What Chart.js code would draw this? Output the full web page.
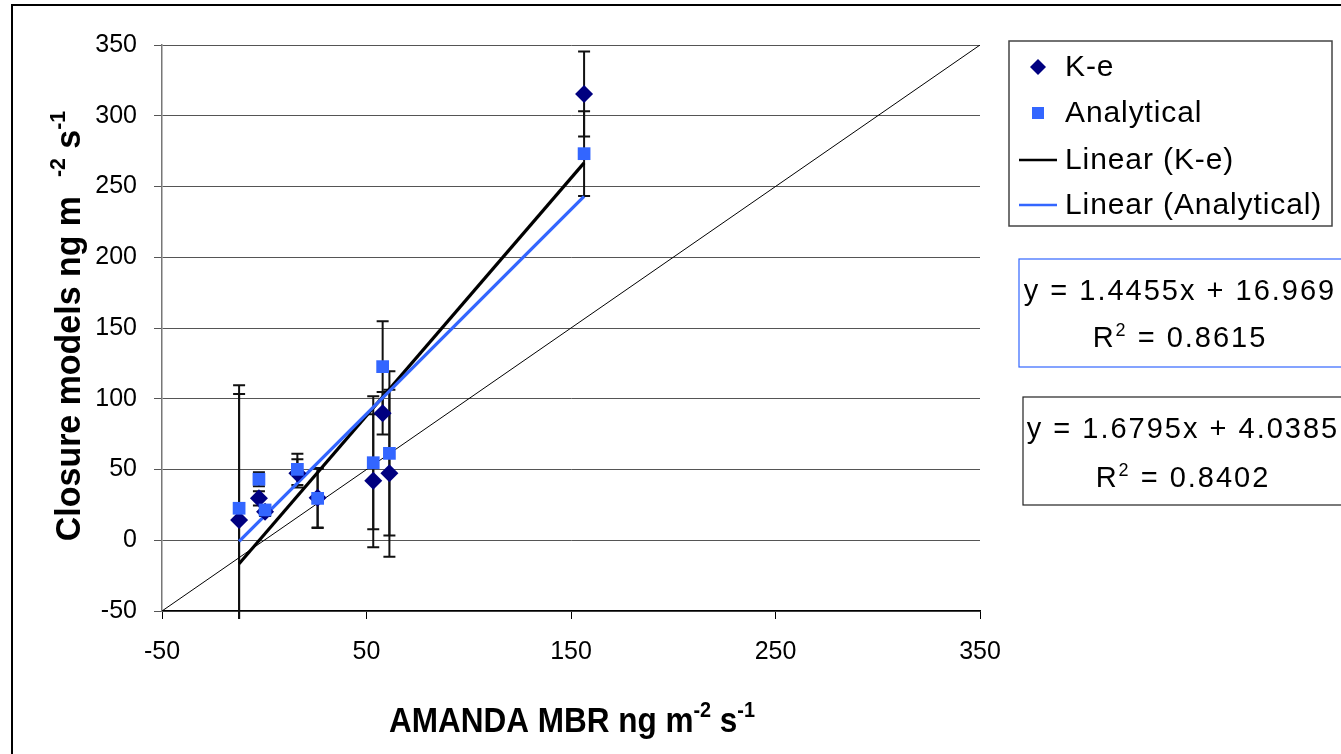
<!DOCTYPE html>
<html>
<head>
<meta charset="utf-8">
<script src="https://cdn.jsdelivr.net/npm/chart.js@4.4.1/dist/chart.umd.min.js"></script>
<style>
  html, body { margin: 0; padding: 0; background: #fff; }
  canvas { display: block; }
</style>
</head>
<body>
<canvas id="myChart" width="1341" height="754"></canvas>
<script>
// AMANDA MBR (x) for each site, with both closure models (y) and their error
const mbr = [-12.3, -2.6, 0.4, 16.2, 26.1, 53.3, 57.9, 61.2, 156.4];
const ke = [14.3, 29.6, 20.2, 47.3, 30.0, 42.1, 89.7, 47.3, 315.4];
const keErr = [89, 5, 3, 10, 21, 47, 15, 59, 30];
const analytical = [22.6, 43.1, 21.4, 50.1, 29.6, 54.8, 122.7, 61.4, 273.2];
const analyticalErr = [87, 5, 3, 11, 21, 47, 32, 58, 30];

// trendline fits as printed on the chart: [slope, intercept, R2]
const keFit = [1.6795, 4.0385, 0.8402];
const analyticalFit = [1.4455, 16.969, 0.8615];

// 1:1 line ends
const parity = [-50, 350];

const xTicks = [-50, 50, 150, 250, 350];
const yTicks = [-50, 0, 50, 100, 150, 200, 250, 300, 350];

const legendOrder = ['K-e', 'Analytical', 'Linear (K-e)', 'Linear (Analytical)'];

const NAVY = '#000080';
const BLUE = '#3366FF';
const FONT = "'Liberation Sans', Arial, sans-serif";

const pts = (ys) => mbr.map((x, i) => ({ x: x, y: ys[i] }));
const trend = (fit) => {
  const lo = Math.min(...mbr), hi = Math.max(...mbr);
  return [{ x: lo, y: fit[0] * lo + fit[1] }, { x: hi, y: fit[0] * hi + fit[1] }];
};

// text with superscripts: parts = [[text, isSup], ...], centred on cx
function richText(ctx, parts, cx, cy, size, bold, spacing, sx) {
  const w = bold ? 'bold ' : '';
  sx = sx || 1;
  ctx.save();
  ctx.translate(cx, cy);
  ctx.scale(sx, 1);
  ctx.letterSpacing = (spacing || 0) + 'px';
  let total = 0;
  parts.forEach(p => {
    ctx.font = w + (p[1] ? Math.round(size * 0.62) : size) + 'px ' + FONT;
    total += ctx.measureText(p[0]).width;
  });
  let x = -total / 2;
  ctx.textAlign = 'left';
  ctx.textBaseline = 'alphabetic';
  parts.forEach(p => {
    ctx.font = w + (p[1] ? Math.round(size * 0.62) : size) + 'px ' + FONT;
    ctx.fillText(p[0], x, p[1] ? -size * 0.05 : size * 0.36);
    x += ctx.measureText(p[0]).width;
  });
  ctx.restore();
}

const overlay = {
  id: 'overlay',
  beforeDatasetsDraw(chart) {
    const ctx = chart.ctx, xs = chart.scales.x, ys = chart.scales.y, area = chart.chartArea;
    ctx.save();
    ctx.beginPath();
    ctx.rect(area.left - 10, area.top, area.right - area.left + 20, area.bottom - area.top + 8);
    ctx.clip();
    [[ke, keErr], [analytical, analyticalErr]].forEach(([vals, errs]) => {
      vals.forEach((v, i) => {
        const px = xs.getPixelForValue(mbr[i]);
        const t = ys.getPixelForValue(v + errs[i]);
        const b = ys.getPixelForValue(v - errs[i]);
        ctx.strokeStyle = '#111';
        ctx.lineWidth = 2;
        ctx.beginPath();
        ctx.moveTo(px, t); ctx.lineTo(px, b);
        ctx.moveTo(px - 6, t); ctx.lineTo(px + 6, t);
        ctx.moveTo(px - 6, b); ctx.lineTo(px + 6, b);
        ctx.stroke();
      });
    });
    ctx.restore();
  },
  afterDraw(chart) {
    const ctx = chart.ctx;
    ctx.save();
    ctx.fillStyle = '#000';

    // outer frame
    ctx.strokeStyle = '#000';
    ctx.lineWidth = 2;
    ctx.strokeRect(12, 5, 1400, 800);

    // axis titles
    richText(ctx, [['AMANDA MBR ng m', false], ['-2', true], [' s', false], ['-1', true]], 572, 719, 35, true, 0, 0.9);
    ctx.save();
    ctx.translate(67, 326);
    ctx.rotate(-Math.PI / 2);
    richText(ctx, [['Closure models ng m  ', false], ['-2', true], [' s', false], ['-1', true]], 0, 0, 35, true, 0, 0.97);
    ctx.restore();

    // legend
    ctx.strokeStyle = '#444';
    ctx.lineWidth = 1.5;
    ctx.strokeRect(1009, 41, 323, 185);
    const rows = [67, 113, 160, 205];
    legendOrder.forEach((name, i) => {
      const d = chart.data.datasets.find(s => s.label === name);
      const y = rows[i];
      if (d.legend === 'diamond') {
        ctx.fillStyle = NAVY;
        ctx.beginPath();
        ctx.moveTo(1038, y - 8); ctx.lineTo(1046, y); ctx.lineTo(1038, y + 8); ctx.lineTo(1030, y);
        ctx.closePath(); ctx.fill();
      } else if (d.legend === 'square') {
        ctx.fillStyle = BLUE;
        ctx.fillRect(1032, y - 6, 12, 12);
      } else {
        ctx.strokeStyle = d.borderColor;
        ctx.lineWidth = 2.5;
        ctx.beginPath(); ctx.moveTo(1019, y); ctx.lineTo(1057, y); ctx.stroke();
      }
      ctx.fillStyle = '#000';
      ctx.font = '30px ' + FONT;
      ctx.letterSpacing = '0.9px';
      ctx.textAlign = 'left';
      ctx.textBaseline = 'middle';
      ctx.fillText(d.label, 1065, y + 1);
      ctx.letterSpacing = '0px';
    });

    // trendline equation boxes
    const eq = (fit) => 'y = ' + fit[0].toFixed(4) + 'x + ' + fit[1];
    ctx.strokeStyle = BLUE;
    ctx.lineWidth = 1.2;
    ctx.strokeRect(1019, 259, 340, 108);
    ctx.fillStyle = '#000';
    richText(ctx, [[eq(analyticalFit), false]], 1180, 290, 29, false, 2);
    richText(ctx, [['R', false], ['2', true], [' = ' + analyticalFit[2].toFixed(4), false]], 1180, 337, 29, false, 2);
    ctx.strokeStyle = '#222';
    ctx.strokeRect(1023, 397, 340, 108);
    richText(ctx, [[eq(keFit), false]], 1183, 428, 29, false, 2);
    richText(ctx, [['R', false], ['2', true], [' = ' + keFit[2].toFixed(4), false]], 1183, 477, 29, false, 2);
    ctx.restore();
  }
};

const ctx = document.getElementById('myChart');
const myChart = new Chart(ctx, {
  type: 'scatter',
  data: {
    datasets: [{
      label: 'Analytical',
      legend: 'square',
      data: pts(analytical),
      pointStyle: 'rect',
      pointRadius: 9,
      backgroundColor: BLUE,
      borderColor: BLUE,
      borderWidth: 0,
      order: 0
    }, {
      label: 'K-e',
      legend: 'diamond',
      data: pts(ke),
      pointStyle: 'rectRot',
      pointRadius: 9,
      backgroundColor: NAVY,
      borderColor: NAVY,
      borderWidth: 0,
      order: 1
    }, {
      label: 'Linear (K-e)',
      legend: 'line',
      type: 'line',
      data: trend(keFit),
      showLine: true,
      borderColor: '#000',
      borderWidth: 3.2,
      pointRadius: 0,
      order: 3
    }, {
      label: 'Linear (Analytical)',
      legend: 'line',
      type: 'line',
      data: trend(analyticalFit),
      showLine: true,
      borderColor: BLUE,
      borderWidth: 3.2,
      pointRadius: 0,
      order: 2
    }, {
      label: '1:1',
      type: 'line',
      data: parity.map(v => ({ x: v, y: v })),
      showLine: true,
      borderColor: '#000',
      borderWidth: 1,
      pointRadius: 0,
      order: 4
    }]
  },
  plugins: [overlay],
  options: {
    responsive: false,
    animation: false,
    layout: { padding: { left: 0, top: 45, right: 361, bottom: 0 } },
    plugins: {
      legend: { display: false },
      tooltip: { enabled: false }
    },
    scales: {
      x: {
        type: 'linear',
        min: xTicks[0],
        max: xTicks[xTicks.length - 1],
        afterBuildTicks: s => { s.ticks = xTicks.map(v => ({ value: v })); },
        afterFit: s => { s.height = 143; },
        border: { color: '#000', width: 1.2 },
        grid: { drawOnChartArea: false, drawTicks: true, tickLength: 8, color: '#000' },
        ticks: { color: '#000', padding: 18, font: { family: FONT, size: 25 } }
      },
      y: {
        type: 'linear',
        min: yTicks[0],
        max: yTicks[yTicks.length - 1],
        afterBuildTicks: s => { s.ticks = yTicks.map(v => ({ value: v })); },
        afterFit: s => { s.width = 162; },
        border: { color: '#777', width: 1.5 },
        grid: { color: '#555', lineWidth: 1, tickLength: 8 },
        ticks: { color: '#000', padding: 17, font: { family: FONT, size: 25 } }
      }
    }
  }
});
</script>
</body>
</html>
